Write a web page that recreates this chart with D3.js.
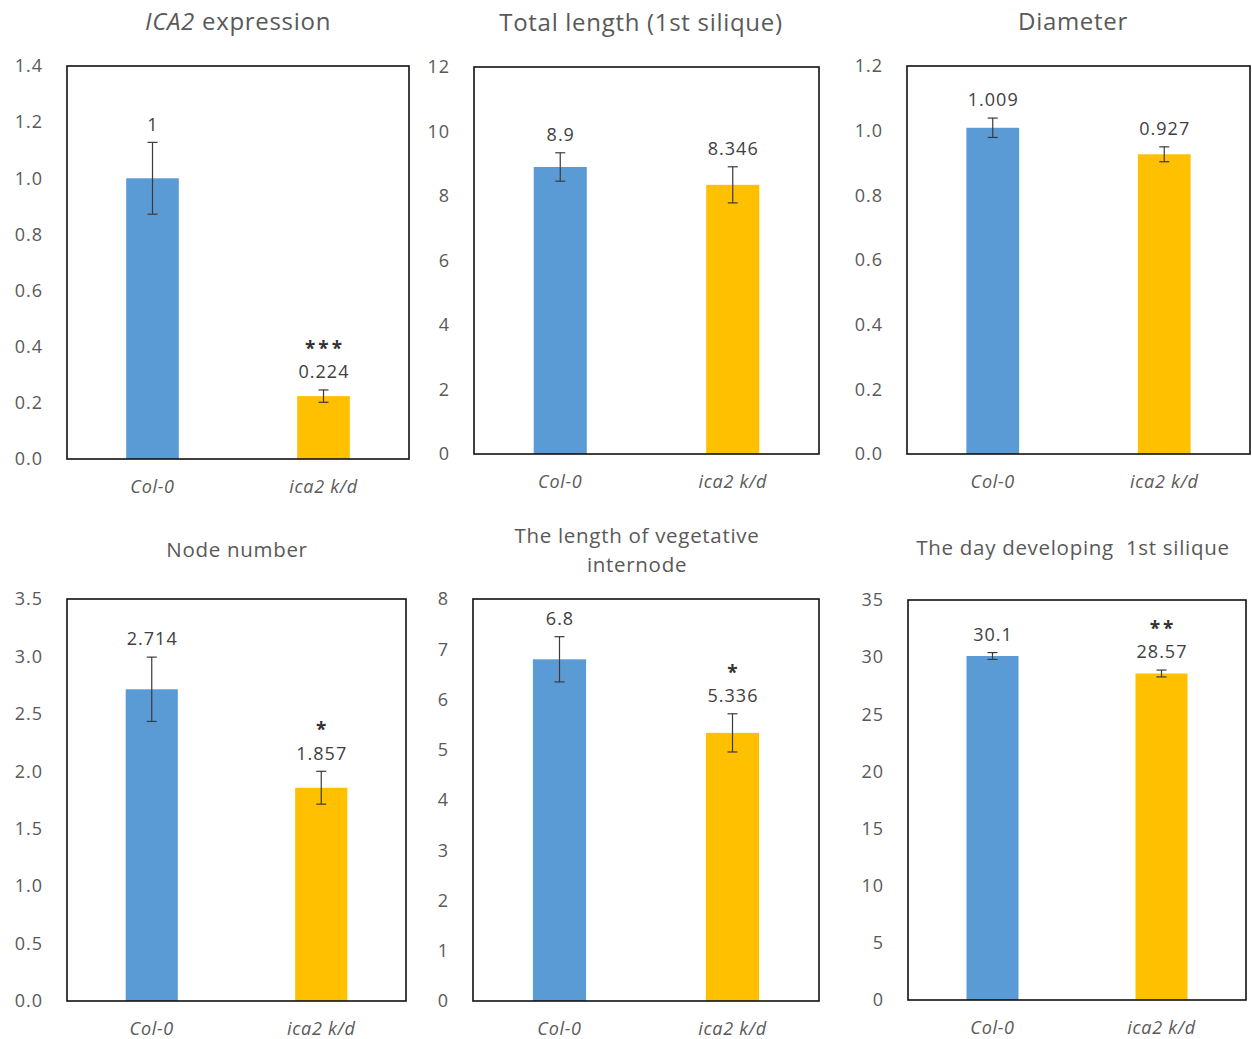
<!DOCTYPE html>
<html>
<head>
<meta charset="utf-8">
<script src="https://cdn.jsdelivr.net/npm/d3@7"></script>
<style>
  html, body { margin: 0; padding: 0; background: #fff; }
  svg { display: block; font-family: "Open Sans", sans-serif; }
</style>
</head>
<body>
<svg id="chart" width="1252" height="1039"></svg>
<script>
// ---- data ----
const categories = ["Col-0", "ica2 k/d"];
const titles = [
  ["ICA2 expression"],
  ["Total length (1st silique)"],
  ["Diameter"],
  ["Node number"],
  ["The length of vegetative", "internode"],
  ["The day developing  1st silique"]
];
const meanValues = [
  [1, 0.224],
  [8.9, 8.346],
  [1.009, 0.927],
  [2.714, 1.857],
  [6.8, 5.336],
  [30.1, 28.57]
];
const valueLabels = [
  ["1", "0.224"],
  ["8.9", "8.346"],
  ["1.009", "0.927"],
  ["2.714", "1.857"],
  ["6.8", "5.336"],
  ["30.1", "28.57"]
];
const errorValues = [
  [0.128, 0.022],
  [0.44, 0.56],
  [0.03, 0.023],
  [0.28, 0.143],
  [0.45, 0.38],
  [0.3, 0.3]
];
const significance = [
  ["", "***"],
  ["", ""],
  ["", ""],
  ["", "*"],
  ["", "*"],
  ["", "**"]
];
const axisMax = [1.4, 12, 1.2, 3.5, 8, 35];
const axisStep = [0.2, 2, 0.2, 0.5, 1, 5];
const tickFormats = [".1f", "d", ".1f", ".1f", "d", "d"];

// ---- layout ----
const plotBoxes = [
  { x0: 67, x1: 409, y0: 66, y1: 459, titleX: 238, titleY: 22, titleSize: 24 },
  { x0: 474, x1: 819, y0: 67, y1: 454, titleX: 641, titleY: 23, titleSize: 24 },
  { x0: 907, x1: 1250, y0: 66, y1: 454, titleX: 1073, titleY: 22, titleSize: 24 },
  { x0: 67, x1: 406, y0: 599, y1: 1001, titleX: 237, titleY: 550, titleSize: 20.5 },
  { x0: 473, x1: 819, y0: 599, y1: 1001, titleX: 637, titleY: 536, titleSize: 20.5 },
  { x0: 908, x1: 1246, y0: 600, y1: 1000, titleX: 1073, titleY: 548, titleSize: 20.5 }
];
const barColors = ["#5b9bd5", "#ffc000"];
const textGray = "#595959";
const labelGray = "#404040";

const svg = d3.select("#chart");

plotBoxes.forEach((box, i) => {
  const g = svg.append("g");
  const x = d3.scaleBand().domain(categories).range([box.x0, box.x1]).padding(0);
  const y = d3.scaleLinear().domain([0, axisMax[i]]).range([box.y1, box.y0]);
  const barW = x.bandwidth() / 3.25;

  // y axis labels
  const ticks = d3.range(0, axisMax[i] + axisStep[i] / 2, axisStep[i]);
  const axis = d3.axisLeft(y)
    .tickValues(ticks)
    .tickFormat(d3.format(tickFormats[i]))
    .tickSize(0)
    .tickPadding(24);
  const ag = g.append("g").attr("transform", `translate(${box.x0},0)`).call(axis);
  ag.select(".domain").remove();
  ag.selectAll("text")
    .attr("fill", textGray)
    .style("font-size", "18px")
    .style("letter-spacing", "1px")
    .style("font-family", "'Open Sans', sans-serif");

  // bars
  g.selectAll("rect.bar")
    .data(categories)
    .join("rect")
    .attr("class", "bar")
    .attr("x", d => x(d) + x.bandwidth() / 2 - barW / 2)
    .attr("width", barW)
    .attr("y", (d, j) => y(meanValues[i][j]))
    .attr("height", (d, j) => y(0) - y(meanValues[i][j]))
    .attr("fill", (d, j) => barColors[j]);

  // error bars, value labels and significance marks
  categories.forEach((c, j) => {
    const cx = x(c) + x.bandwidth() / 2;
    const hi = y(meanValues[i][j] + errorValues[i][j]);
    const lo = y(meanValues[i][j] - errorValues[i][j]);
    const eg = g.append("g").attr("stroke", "#3a3a3a").attr("stroke-width", 1.2);
    eg.append("line").attr("x1", cx).attr("x2", cx).attr("y1", hi).attr("y2", lo);
    eg.append("line").attr("x1", cx - 5).attr("x2", cx + 5).attr("y1", hi).attr("y2", hi);
    eg.append("line").attr("x1", cx - 5).attr("x2", cx + 5).attr("y1", lo).attr("y2", lo);

    const labelY = hi - 18;
    g.append("text")
      .attr("x", cx + 0.5)
      .attr("y", labelY)
      .attr("dy", "0.35em")
      .attr("text-anchor", "middle")
      .attr("fill", labelGray)
      .style("font-size", "18px")
      .style("letter-spacing", "1px")
      .text(valueLabels[i][j]);

    if (significance[i][j]) {
      g.append("text")
        .attr("x", cx + 1.5)
        .attr("y", labelY - 17)
        .attr("text-anchor", "middle")
        .attr("fill", "#333")
        .style("font-size", "19px")
        .style("font-weight", "bold")
        .style("letter-spacing", "3px")
        .text(significance[i][j]);
    }
  });

  // plot frame
  g.append("rect")
    .attr("x", box.x0).attr("y", box.y0)
    .attr("width", box.x1 - box.x0).attr("height", box.y1 - box.y0)
    .attr("fill", "none").attr("stroke", "#111").attr("stroke-width", 1.6);

  // category labels
  g.selectAll("text.cat")
    .data(categories)
    .join("text")
    .attr("class", "cat")
    .attr("x", d => x(d) + x.bandwidth() / 2)
    .attr("y", box.y1 + 28)
    .attr("dy", "0.35em")
    .attr("text-anchor", "middle")
    .attr("fill", textGray)
    .style("font-size", "18px")
    .style("font-style", "italic")
    .style("letter-spacing", "0.7px")
    .text(d => d);

  // title
  const t = g.append("text")
    .attr("x", box.titleX)
    .attr("y", box.titleY)
    .attr("text-anchor", "middle")
    .attr("fill", textGray)
    .style("font-size", box.titleSize + "px")
    .style("letter-spacing", "0.7px")
    .style("white-space", "pre");
  if (i === 0) {
    t.attr("dy", "0.35em");
    t.append("tspan").style("font-style", "italic").text("ICA2");
    t.append("tspan").text(" expression");
  } else {
    titles[i].forEach((line, k) => {
      t.append("tspan")
        .attr("x", box.titleX)
        .attr("dy", k === 0 ? "0.35em" : "29px")
        .text(line);
    });
  }
});
</script>
</body>
</html>
